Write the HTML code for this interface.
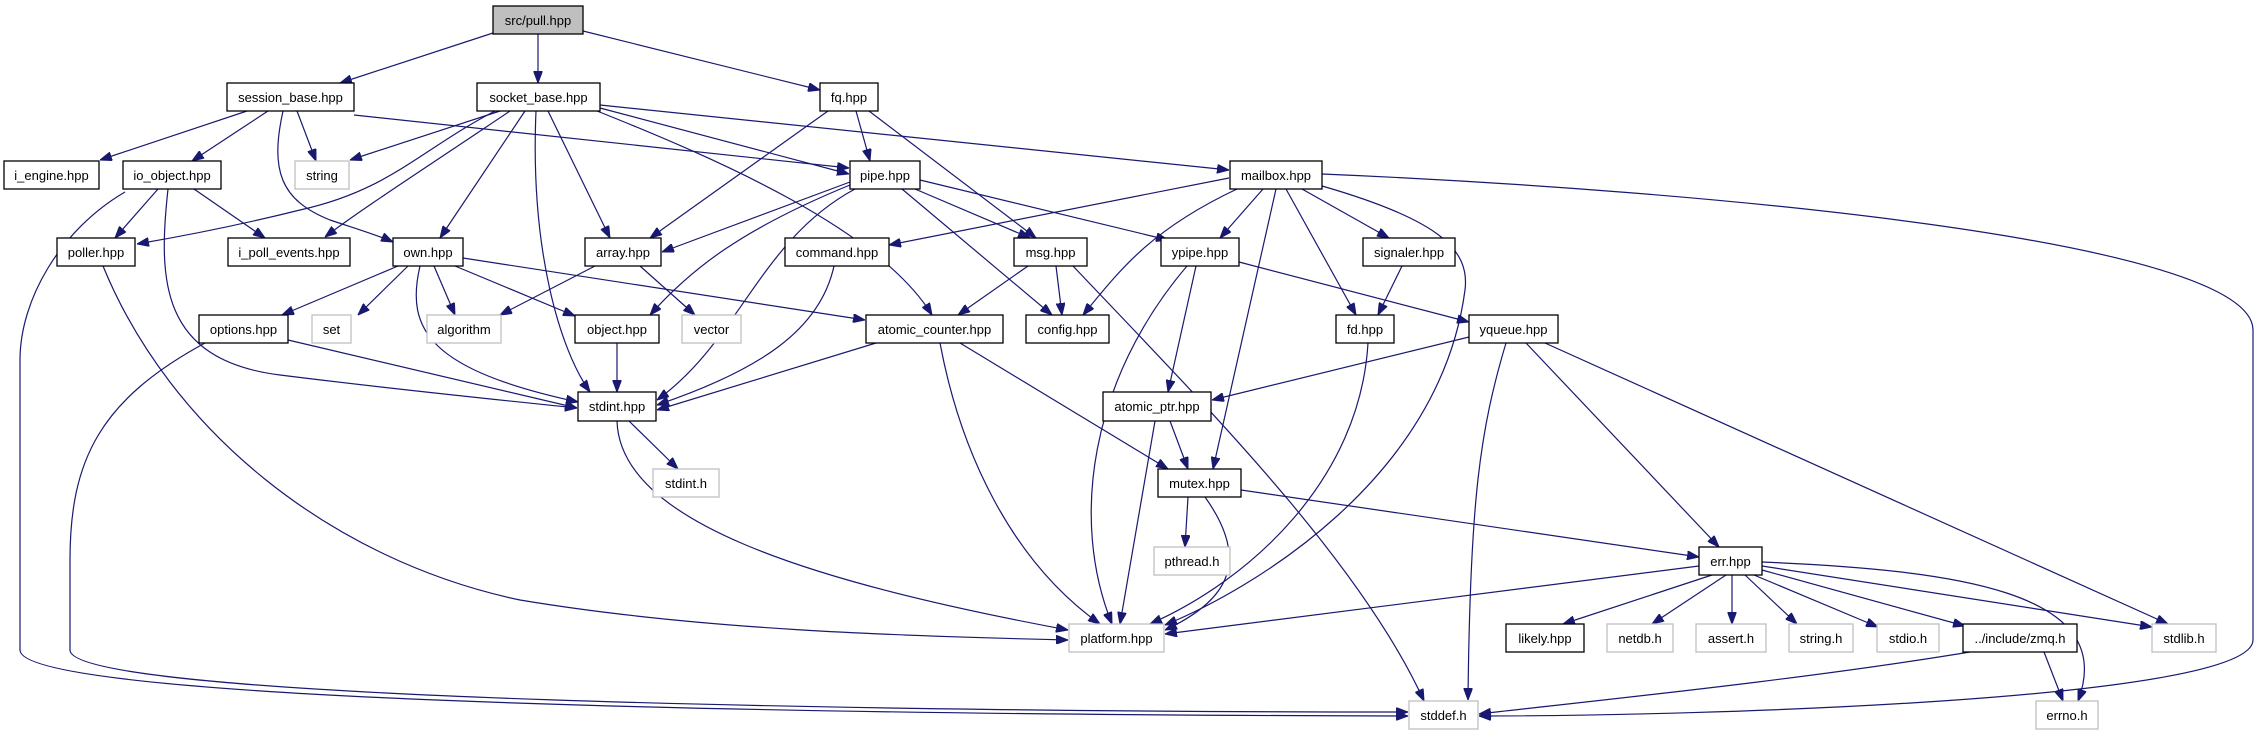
<!DOCTYPE html>
<html><head><meta charset="utf-8"><style>
html,body{margin:0;padding:0;background:#fff;}
svg{display:block;}
text{font-family:"Liberation Sans",Arial,sans-serif;font-size:13px;fill:#000;}
.n{fill:#fff;stroke:#000;stroke-width:1.3;}
.g{fill:#fff;stroke:#bfbfbf;stroke-width:1.3;}
.e{fill:none;stroke:#191970;stroke-width:1.2;}
</style></head><body>
<svg width="2261" height="736" viewBox="0 0 2261 736" xmlns="http://www.w3.org/2000/svg">
<defs><marker id="a" viewBox="0 0 12 9" refX="12" refY="4.5" markerWidth="12" markerHeight="9" markerUnits="userSpaceOnUse" orient="auto"><path d="M0,0 L12,4.5 L0,9 z" fill="#191970" stroke="#191970"/></marker></defs>
<g marker-end="url(#a)">
<path class="e" d="M493,33 L340,83"/>
<path class="e" d="M538,34 L538,83"/>
<path class="e" d="M583,31 L820,90"/>
<path class="e" d="M247,111 L100,160"/>
<path class="e" d="M268,111 L192,161"/>
<path class="e" d="M297,111 L316,161"/>
<path class="e" d="M283,111 C270,170 280,200 330,220 C360,230 380,236 393,242"/>
<path class="e" d="M354,115 L849,168"/>
<path class="e" d="M500,111 L350,160"/>
<path class="e" d="M495,111 C420,150 390,190 300,210 C220,230 160,240 137,244"/>
<path class="e" d="M510,111 C430,165 360,210 325,237"/>
<path class="e" d="M525,111 L440,238"/>
<path class="e" d="M536,111 C530,250 560,350 590,392"/>
<path class="e" d="M548,111 L610,238"/>
<path class="e" d="M600,108 L849,174"/>
<path class="e" d="M597,111 C720,160 880,230 932,315"/>
<path class="e" d="M600,105 L1229,170"/>
<path class="e" d="M856,111 L870,161"/>
<path class="e" d="M828,111 L650,238"/>
<path class="e" d="M869,111 L1036,238"/>
<path class="e" d="M158,189 L115,238"/>
<path class="e" d="M194,189 L265,238"/>
<path class="e" d="M168,189 C158,280 160,360 280,375 C400,390 500,400 577,408"/>
<path class="e" d="M125,192 C60,230 20,300 20,360 L20,650 C20,705 900,715 1408,716"/>
<path class="e" d="M850,182 L662,252"/>
<path class="e" d="M850,185 C740,230 690,270 650,315"/>
<path class="e" d="M855,189 C760,240 740,340 657,400"/>
<path class="e" d="M915,189 L1030,238"/>
<path class="e" d="M902,189 L1052,315"/>
<path class="e" d="M920,180 L1168,240"/>
<path class="e" d="M1229,178 L889,245"/>
<path class="e" d="M1237,189 C1150,230 1120,270 1083,315"/>
<path class="e" d="M1263,189 L1220,238"/>
<path class="e" d="M1276,189 L1213,469"/>
<path class="e" d="M1286,189 L1356,315"/>
<path class="e" d="M1302,189 L1389,238"/>
<path class="e" d="M1322,186 C1440,220 1470,250 1465,290 C1440,480 1250,590 1165,625"/>
<path class="e" d="M1322,174 C1700,190 2253,240 2253,330 L2253,640 C2253,700 1700,716 1479,716"/>
<path class="e" d="M398,266 L282,315"/>
<path class="e" d="M408,266 L358,315"/>
<path class="e" d="M434,266 L455,315"/>
<path class="e" d="M455,266 L575,316"/>
<path class="e" d="M420,266 C405,330 430,370 578,402"/>
<path class="e" d="M463,258 L865,320"/>
<path class="e" d="M595,266 L500,315"/>
<path class="e" d="M640,266 L695,315"/>
<path class="e" d="M103,266 C170,430 330,560 520,600 C700,630 900,636 1068,640"/>
<path class="e" d="M288,340 L577,408"/>
<path class="e" d="M205,343 C100,400 70,460 70,560 L70,650 C70,700 900,712 1408,712"/>
<path class="e" d="M617,343 L617,392"/>
<path class="e" d="M834,266 C820,330 760,370 657,405"/>
<path class="e" d="M876,343 L657,410"/>
<path class="e" d="M940,343 C960,450 1010,560 1100,624"/>
<path class="e" d="M960,343 L1168,469"/>
<path class="e" d="M1028,266 L958,315"/>
<path class="e" d="M1056,266 L1062,315"/>
<path class="e" d="M1073,266 C1200,400 1360,560 1424,701"/>
<path class="e" d="M1196,266 L1168,392"/>
<path class="e" d="M1187,266 C1090,380 1070,520 1112,624"/>
<path class="e" d="M1239,262 L1469,322"/>
<path class="e" d="M1402,266 L1378,315"/>
<path class="e" d="M1368,343 C1360,480 1250,580 1150,624"/>
<path class="e" d="M1469,337 L1212,400"/>
<path class="e" d="M1506,343 C1480,430 1470,500 1468,700"/>
<path class="e" d="M1526,343 L1719,547"/>
<path class="e" d="M1545,343 L2168,624"/>
<path class="e" d="M1170,421 L1188,469"/>
<path class="e" d="M1155,421 L1120,624"/>
<path class="e" d="M629,421 L678,469"/>
<path class="e" d="M617,421 C620,520 800,580 1068,630"/>
<path class="e" d="M1188,497 L1185,547"/>
<path class="e" d="M1205,497 C1250,560 1230,600 1165,630"/>
<path class="e" d="M1241,490 L1699,557"/>
<path class="e" d="M1699,566 L1165,634"/>
<path class="e" d="M1712,575 L1563,624"/>
<path class="e" d="M1726,575 L1652,624"/>
<path class="e" d="M1732,575 L1732,624"/>
<path class="e" d="M1745,575 L1797,624"/>
<path class="e" d="M1754,575 L1878,627"/>
<path class="e" d="M1762,570 L1965,626"/>
<path class="e" d="M1762,566 L2152,627"/>
<path class="e" d="M1762,562 C1950,570 2120,590 2078,701"/>
<path class="e" d="M1970,652 C1800,680 1600,700 1479,714"/>
<path class="e" d="M2044,652 L2063,701"/>
</g>
<g text-anchor="middle">
<rect x="493" y="6" width="90" height="28" fill="#bfbfbf" stroke="#000" stroke-width="1.3"/><text x="538" y="25">src/pull.hpp</text>
<rect class="n" x="227" y="83" width="127" height="28"/><text x="290.5" y="102">session_base.hpp</text>
<rect class="n" x="477" y="83" width="123" height="28"/><text x="538.5" y="102">socket_base.hpp</text>
<rect class="n" x="820" y="83" width="58" height="28"/><text x="849" y="102">fq.hpp</text>
<rect class="n" x="4" y="161" width="95" height="28"/><text x="51.5" y="180">i_engine.hpp</text>
<rect class="n" x="123" y="161" width="98" height="28"/><text x="172" y="180">io_object.hpp</text>
<rect class="g" x="295" y="161" width="54" height="28"/><text x="322" y="180">string</text>
<rect class="n" x="850" y="161" width="70" height="28"/><text x="885" y="180">pipe.hpp</text>
<rect class="n" x="1230" y="161" width="92" height="28"/><text x="1276" y="180">mailbox.hpp</text>
<rect class="n" x="57" y="238" width="78" height="28"/><text x="96" y="257">poller.hpp</text>
<rect class="n" x="228" y="238" width="122" height="28"/><text x="289" y="257">i_poll_events.hpp</text>
<rect class="n" x="393" y="238" width="70" height="28"/><text x="428" y="257">own.hpp</text>
<rect class="n" x="585" y="238" width="76" height="28"/><text x="623" y="257">array.hpp</text>
<rect class="n" x="785" y="238" width="104" height="28"/><text x="837" y="257">command.hpp</text>
<rect class="n" x="1014" y="238" width="73" height="28"/><text x="1050.5" y="257">msg.hpp</text>
<rect class="n" x="1161" y="238" width="78" height="28"/><text x="1200" y="257">ypipe.hpp</text>
<rect class="n" x="1363" y="238" width="92" height="28"/><text x="1409" y="257">signaler.hpp</text>
<rect class="n" x="199" y="315" width="89" height="28"/><text x="243.5" y="334">options.hpp</text>
<rect class="g" x="312" y="315" width="39" height="28"/><text x="331.5" y="334">set</text>
<rect class="g" x="427" y="315" width="74" height="28"/><text x="464" y="334">algorithm</text>
<rect class="n" x="575" y="315" width="84" height="28"/><text x="617" y="334">object.hpp</text>
<rect class="g" x="682" y="315" width="59" height="28"/><text x="711.5" y="334">vector</text>
<rect class="n" x="866" y="315" width="137" height="28"/><text x="934.5" y="334">atomic_counter.hpp</text>
<rect class="n" x="1026" y="315" width="83" height="28"/><text x="1067.5" y="334">config.hpp</text>
<rect class="n" x="1336" y="315" width="58" height="28"/><text x="1365" y="334">fd.hpp</text>
<rect class="n" x="1469" y="315" width="89" height="28"/><text x="1513.5" y="334">yqueue.hpp</text>
<rect class="n" x="578" y="392" width="78" height="29"/><text x="617" y="411">stdint.hpp</text>
<rect class="n" x="1103" y="392" width="108" height="29"/><text x="1157" y="411">atomic_ptr.hpp</text>
<rect class="g" x="653" y="469" width="66" height="28"/><text x="686" y="488">stdint.h</text>
<rect class="n" x="1158" y="469" width="83" height="28"/><text x="1199.5" y="488">mutex.hpp</text>
<rect class="g" x="1154" y="547" width="76" height="28"/><text x="1192" y="566">pthread.h</text>
<rect class="n" x="1699" y="547" width="63" height="28"/><text x="1730.5" y="566">err.hpp</text>
<rect class="g" x="1069" y="624" width="95" height="28"/><text x="1116.5" y="643">platform.hpp</text>
<rect class="n" x="1506" y="624" width="78" height="28"/><text x="1545" y="643">likely.hpp</text>
<rect class="g" x="1607" y="624" width="66" height="28"/><text x="1640" y="643">netdb.h</text>
<rect class="g" x="1696" y="624" width="70" height="28"/><text x="1731" y="643">assert.h</text>
<rect class="g" x="1789" y="624" width="64" height="28"/><text x="1821" y="643">string.h</text>
<rect class="g" x="1877" y="624" width="62" height="28"/><text x="1908" y="643">stdio.h</text>
<rect class="n" x="1963" y="624" width="114" height="28"/><text x="2020" y="643">../include/zmq.h</text>
<rect class="g" x="2152" y="624" width="64" height="28"/><text x="2184" y="643">stdlib.h</text>
<rect class="g" x="1409" y="701" width="69" height="28"/><text x="1443.5" y="720">stddef.h</text>
<rect class="g" x="2036" y="701" width="62" height="28"/><text x="2067" y="720">errno.h</text>
</g>
</svg>
</body></html>
